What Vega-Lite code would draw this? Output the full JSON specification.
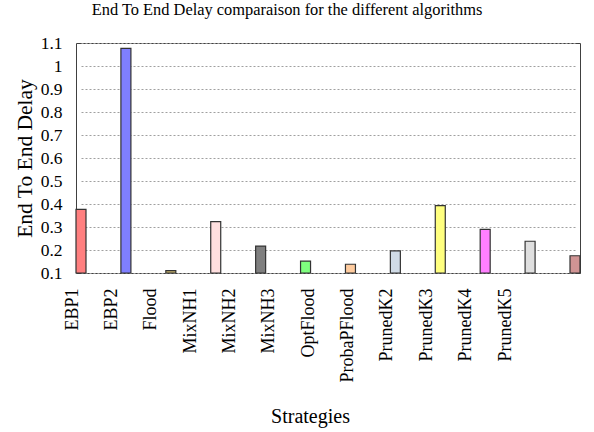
{
  "$schema": "https://vega.github.io/schema/vega-lite/v6.json",
  "width": 504,
  "height": 230,
  "autosize": "none",
  "padding": {"left": 76, "top": 43, "right": 14, "bottom": 159},
  "background": "white",
  "title": {
    "text": "End To End Delay comparaison for the different algorithms",
    "font": "Liberation Serif",
    "fontSize": 16.4,
    "fontWeight": "normal",
    "color": "black",
    "frame": "group",
    "anchor": "middle",
    "dx": -41,
    "baseline": "alphabetic",
    "offset": 3
  },
  "config": {
    "view": {"stroke": "#404040", "strokeWidth": 1},
    "font": "Liberation Serif"
  },
  "data": {
    "values": [
      {"strategy": "EBP1", "delay": 0.377},
      {"strategy": "EBP2", "delay": 1.077},
      {"strategy": "Flood", "delay": 0.11},
      {"strategy": "MixNH1", "delay": 0.323},
      {"strategy": "MixNH2", "delay": 0.217},
      {"strategy": "MixNH3", "delay": 0.152},
      {"strategy": "OptFlood", "delay": 0.138},
      {"strategy": "ProbaPFlood", "delay": 0.196},
      {"strategy": "PrunedK2", "delay": 0.393},
      {"strategy": "PrunedK3", "delay": 0.29},
      {"strategy": "PrunedK4", "delay": 0.238},
      {"strategy": "PrunedK5", "delay": 0.175}
    ]
  },
  "layer": [
    {
      "mark": {"type": "bar", "width": 10, "stroke": "#333333", "strokeWidth": 1.2},
      "encoding": {
        "x": {
          "field": "strategy",
          "type": "nominal",
          "sort": null,
          "scale": {"type": "point", "range": [5, 499], "padding": 0},
          "axis": null
        },
        "y": {
          "field": "delay",
          "type": "quantitative",
          "scale": {"domain": [0.1, 1.1], "zero": false, "nice": false},
          "axis": {
            "title": "End To End Delay",
            "titleFont": "Liberation Serif",
            "titleFontSize": 21.5,
            "titleFontWeight": "normal",
            "titleColor": "black",
            "titlePadding": 4,
            "values": [0.1, 0.2, 0.3, 0.4, 0.5, 0.6, 0.7, 0.8, 0.9, 1, 1.1],
            "format": "~g",
            "labelFont": "Liberation Serif",
            "labelFontSize": 17.5,
            "labelColor": "black",
            "labelPadding": 14,
            "ticks": false,
            "domain": false,
            "grid": true,
            "gridDash": [2, 2],
            "gridColor": "#a0a0a0",
            "gridWidth": 1
          }
        },
        "y2": {"datum": 0.1},
        "color": {
          "field": "strategy",
          "type": "nominal",
          "sort": null,
          "legend": null,
          "scale": {
            "range": ["#ff7f7f", "#7f7fff", "#c8b46e", "#ffdfdf", "#7f7f7f", "#7fff7f", "#ffcc9f", "#d0dbe6", "#ffff7f", "#ff7fff", "#dfdfdf", "#d09494"]
          }
        }
      }
    },
    {
      "mark": {"type": "tick", "opacity": 0},
      "encoding": {
        "x": {
          "field": "strategy",
          "type": "nominal",
          "sort": null,
          "scale": {"type": "point", "range": [-4, 429], "padding": 0},
          "axis": {
            "title": "Strategies",
            "titleFont": "Liberation Serif",
            "titleFontSize": 20,
            "titleFontWeight": "normal",
            "titleColor": "black",
            "titlePadding": 24,
            "titleX": 234,
            "labelAngle": -90,
            "labelAlign": "right",
            "labelBaseline": "middle",
            "labelFont": "Liberation Serif",
            "labelFontSize": 18,
            "labelColor": "black",
            "labelPadding": 15,
            "ticks": false,
            "domain": false,
            "grid": false
          }
        }
      }
    }
  ],
  "resolve": {"scale": {"x": "independent", "color": "independent"}}
}
